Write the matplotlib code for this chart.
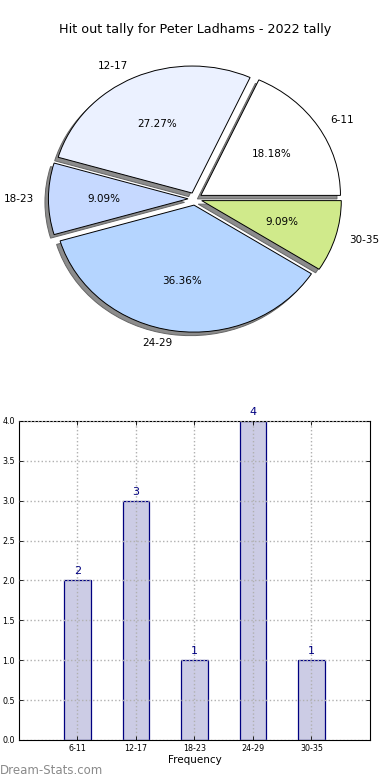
import matplotlib
matplotlib.use("Agg")
import matplotlib.pyplot as plt
import numpy as np

# Data
categories = ["6-11", "12-17", "18-23", "24-29", "30-35"]
counts = [2, 3, 1, 4, 1]
pie_colors = ["#FFFFFF", "#EBF1FF", "#C6D9FF", "#B5D5FF", "#D0EA8B"]
y_ticks = [0.0, 0.5, 1.0, 1.5, 2.0, 2.5, 3.0, 3.5, 4.0]

fig = plt.figure(figsize=(3.9, 7.8), dpi=100)

# Pie chart (top)
ax1 = fig.add_axes([0.0, 0.5528, 1.0, 0.3846])
ax1.pie(counts, labels=categories, colors=pie_colors, autopct="%1.2f%%",
        explode=[0.05] * len(counts),
        shadow=dict(ox=-0.018, oy=-0.02, facecolor="0.55", edgecolor="0.4",
                    alpha=1.0, linewidth=0.7),
        startangle=0,
        wedgeprops=dict(edgecolor="black", linewidth=0.7),
        textprops=dict(fontsize=7.5))
ax1.set_aspect("auto")
ax1.set_xlim(-1.397, 1.397)
ax1.set_ylim(-1.181, 1.181)
ax1.axis("off")
fig.text(0.5, 1 - 30 / 780, "Hit out tally for Peter Ladhams - 2022 tally",
         ha="center", va="center", fontsize=9.2)

# Bar chart (bottom)
ax2 = fig.add_axes([0.0487, 0.0513, 0.9, 0.409])
x = np.arange(len(categories))
ax2.bar(x, counts, width=0.45, color="#CCCCE5", edgecolor="#000080",
        linewidth=0.9, zorder=2)
for xi, c in zip(x, counts):
    ax2.text(xi, c + 0.05, str(c), ha="center", va="bottom",
             color="#000080", fontsize=8)
ax2.set_xlim(-1, 5)
ax2.set_ylim(0, 4)
ax2.set_xticks(x)
ax2.set_xticklabels(categories)
ax2.set_yticks(y_ticks)
ax2.set_yticklabels([f"{v:.1f}" for v in y_ticks])
ax2.tick_params(direction="in", top=True, right=True, labelsize=5.8,
                length=3, width=0.6, pad=3)
ax2.grid(True, color="#b0b0b0", linestyle=":", linewidth=1, zorder=3)
ax2.set_axisbelow(False)
ax2.set_xlabel("Frequency", fontsize=7.5, labelpad=1)
for s in ax2.spines.values():
    s.set_linewidth(0.8)

fig.text(0.0, 1 - 770 / 780, "Dream-Stats.com", ha="left", va="center",
         fontsize=8.5, color="#8a8a8a")

fig.savefig("out.png", dpi=100)
